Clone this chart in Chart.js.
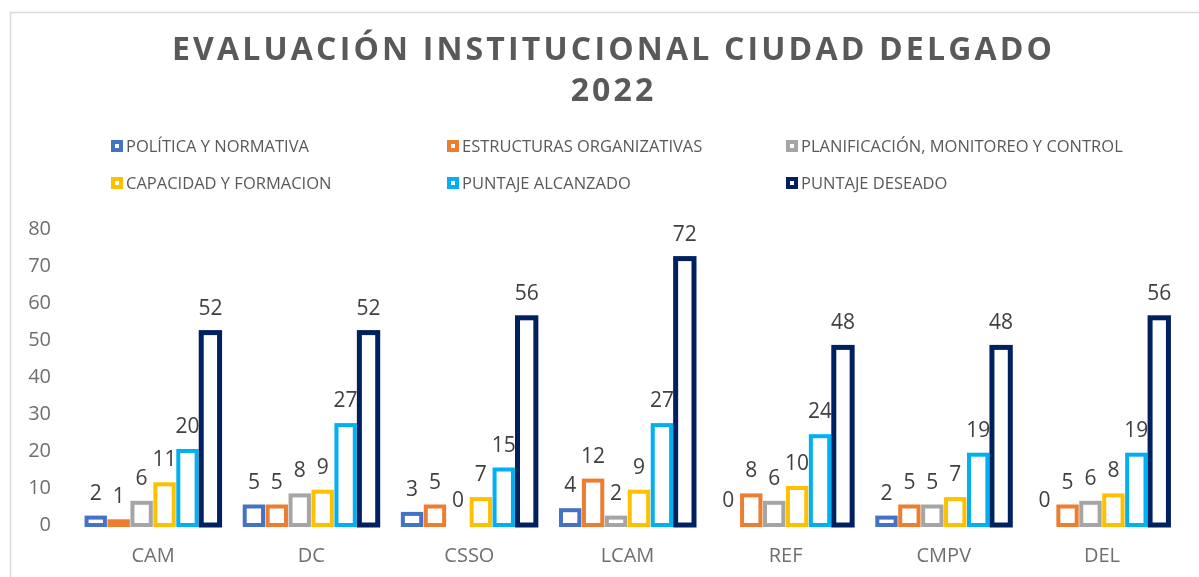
<!DOCTYPE html>
<html>
<head>
<meta charset="utf-8">
<script src="https://cdn.jsdelivr.net/npm/chart.js@4.4.0/dist/chart.umd.min.js"></script>
<style>
  html, body { margin: 0; padding: 0; background: #ffffff; }
  #wrap { width: 1199px; height: 577px; position: relative; }
</style>
</head>
<body>
<div id="wrap"><canvas id="c" width="1199" height="577"></canvas></div>
<script>
const titleLines = ['EVALUACIÓN INSTITUCIONAL CIUDAD DELGADO', '2022'];
const categories = ['CAM', 'DC', 'CSSO', 'LCAM', 'REF', 'CMPV', 'DEL'];
const seriesNames = ['POLÍTICA Y NORMATIVA', 'ESTRUCTURAS ORGANIZATIVAS', 'PLANIFICACIÓN, MONITOREO Y CONTROL',
                     'CAPACIDAD Y FORMACION', 'PUNTAJE ALCANZADO', 'PUNTAJE DESEADO'];
const politica      = [2, 5, 3, 4, 0, 2, 0];
const estructuras   = [1, 5, 5, 12, 8, 5, 5];
const planificacion = [6, 8, 0, 2, 6, 5, 6];
const capacidad     = [11, 9, 7, 9, 10, 7, 8];
const alcanzado     = [20, 27, 15, 27, 24, 19, 19];
const deseado       = [52, 52, 56, 72, 48, 48, 56];
const yTicks = [0, 10, 20, 30, 40, 50, 60, 70, 80];

const colors = ['#4472C4', '#ED7D31', '#A5A5A5', '#FFC000', '#00B0F0', '#002060'];
const strokeWidths = [4, 4, 4, 4, 4, 5];
const seriesValues = [politica, estructuras, planificacion, capacidad, alcanzado, deseado];

const datasets = seriesValues.map((vals, i) => ({
  label: seriesNames[i],
  data: vals,
  backgroundColor: '#ffffff',
  borderWidth: 0,
  strokeColor: colors[i],
  strokeWidth: strokeWidths[i],
  categoryPercentage: 0.87,
  barPercentage: 0.8
}));

const framePlugin = {
  id: 'frame',
  beforeDraw(chart) {
    const ctx = chart.ctx;
    ctx.save();
    ctx.fillStyle = '#ffffff';
    ctx.fillRect(0, 0, chart.width, chart.height);
    ctx.strokeStyle = '#D9D9D9';
    ctx.lineWidth = 1.5;
    ctx.beginPath();
    ctx.moveTo(10.5, chart.height);
    ctx.lineTo(10.5, 12.5);
    ctx.lineTo(chart.width, 12.5);
    ctx.stroke();
    ctx.restore();
  }
};

// Excel-style outline: stroke centred on the edge of each bar produced by Chart.js
const outlinePlugin = {
  id: 'outline',
  afterDatasetsDraw(chart) {
    const ctx = chart.ctx;
    ctx.save();
    chart.data.datasets.forEach((ds, di) => {
      const meta = chart.getDatasetMeta(di);
      ctx.strokeStyle = ds.strokeColor;
      ctx.lineWidth = ds.strokeWidth;
      meta.data.forEach((bar) => {
        const p = bar.getProps(['x', 'y', 'base', 'width'], true);
        const h = p.base - p.y;
        if (h <= 0.01) return;
        ctx.strokeRect(p.x - p.width / 2, p.y, p.width, h);
      });
    });
    ctx.restore();
  }
};

const titleLegendPlugin = {
  id: 'titleLegend',
  afterDraw(chart) {
    const ctx = chart.ctx;
    ctx.save();
    // Title
    ctx.fillStyle = '#595959';
    ctx.textAlign = 'center';
    ctx.textBaseline = 'middle';
    ctx.font = 'bold 32px "Open Sans", Lato, sans-serif';
    const targetW = 880;
    const w0 = ctx.measureText(titleLines[0]).width;
    const sp = Math.max(0, (targetW - w0) / (titleLines[0].length - 1));
    if ('letterSpacing' in ctx) ctx.letterSpacing = sp.toFixed(2) + 'px';
    ctx.fillText(titleLines[0], 612 + sp / 2, 51);
    ctx.fillText(titleLines[1], 612 + sp / 2, 92);
    if ('letterSpacing' in ctx) ctx.letterSpacing = '0px';

    // Legend
    const colX = [111, 447, 786];
    const rowY = [146, 183];
    ctx.font = '16.5px "Open Sans", sans-serif';
    ctx.textAlign = 'left';
    ctx.textBaseline = 'middle';
    seriesNames.forEach((name, i) => {
      const x = colX[i % 3];
      const y = rowY[Math.floor(i / 3)];
      ctx.fillStyle = colors[i];
      ctx.fillRect(x, y - 6, 12, 12);
      ctx.fillStyle = '#ffffff';
      ctx.fillRect(x + 4, y - 2, 4, 4);
      ctx.fillStyle = '#595959';
      ctx.fillText(name, x + 15, y + 1);
    });

    // Data labels
    ctx.font = '21px "Open Sans", sans-serif';
    ctx.fillStyle = '#404040';
    ctx.textAlign = 'center';
    ctx.textBaseline = 'alphabetic';
    chart.data.datasets.forEach((ds, di) => {
      const meta = chart.getDatasetMeta(di);
      meta.data.forEach((bar, j) => {
        ctx.fillText(String(ds.data[j]), bar.x, bar.y - 18);
      });
    });
    ctx.restore();
  }
};

new Chart(document.getElementById('c'), {
  type: 'bar',
  data: { labels: categories, datasets },
  options: {
    responsive: false,
    animation: false,
    devicePixelRatio: 1,
    layout: { padding: { top: 229, bottom: 9, left: 28, right: 18 } },
    plugins: {
      legend: { display: false },
      title: { display: false },
      tooltip: { enabled: false }
    },
    scales: {
      x: {
        afterFit(scale) { scale.height = 43; },
        grid: { display: false, drawTicks: false },
        border: { display: false },
        ticks: { color: '#6F6F6F', font: { size: 20, family: '"Open Sans", sans-serif' }, padding: 19, maxRotation: 0 }
      },
      y: {
        min: 0,
        max: 80,
        afterBuildTicks(scale) { scale.ticks = yTicks.map(v => ({ value: v })); },
        afterFit(scale) { scale.width = 46; },
        grid: { display: false, drawTicks: false },
        border: { display: false },
        ticks: { color: '#6F6F6F', font: { size: 20, family: '"Open Sans", sans-serif' }, padding: 23 }
      }
    }
  },
  plugins: [framePlugin, outlinePlugin, titleLegendPlugin]
});
</script>
</body>
</html>
